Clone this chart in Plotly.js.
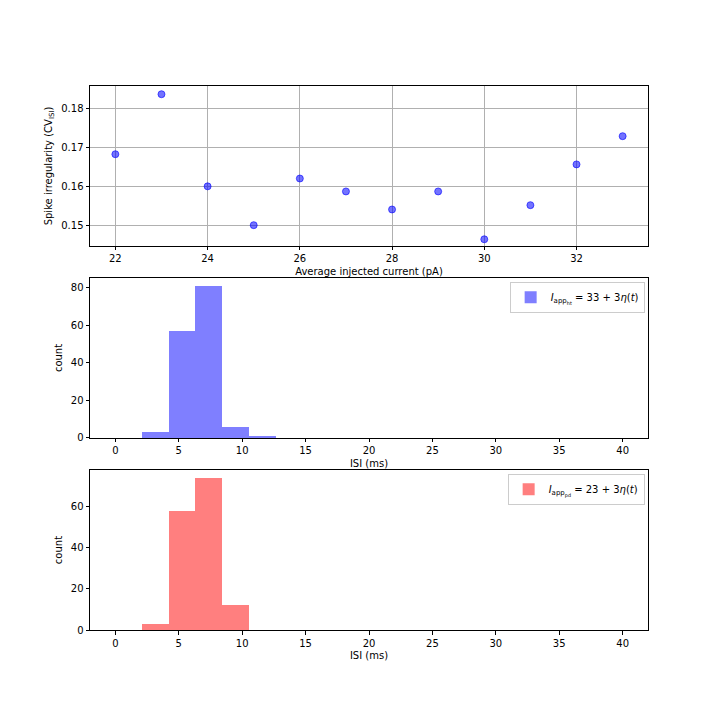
<!DOCTYPE html>
<html>
<head>
<meta charset="utf-8">
<script src="https://cdn.plot.ly/plotly-3.0.1.min.js"></script>
<style>
  body { margin: 0; background: #fff; }
  #myPlotDiv { width: 720px; height: 720px; }
</style>
</head>
<body>
<div id="myPlotDiv"></div>
<script>
// average injected current (pA) vs CV of ISI
const currents = [22, 23, 24, 25, 26, 27, 28, 29, 30, 31, 32, 33];
const cvIsi = [0.1683, 0.1836, 0.1601, 0.1502, 0.1621, 0.1588, 0.1542, 0.1588, 0.1466, 0.1553, 0.1657, 0.1729];

// ISI histograms: 19 bins over 0..40 ms
const histRange = [0, 40];
const nBins = 19;
const countsHt = [0, 3, 57, 81, 6, 1, 0, 0, 0, 0, 0, 0, 0, 0, 0, 0, 0, 0, 0];
const countsPd = [0, 3, 58, 74, 12, 0, 0, 0, 0, 0, 0, 0, 0, 0, 0, 0, 0, 0, 0];
const labelHt = '<i>I</i><sub>app<sub>ht</sub></sub> = 33 + 3<i>η</i>(<i>t</i>)';
const labelPd = '<i>I</i><sub>app<sub>pd</sub></sub> = 23 + 3<i>η</i>(<i>t</i>)';

const binWidth = (histRange[1] - histRange[0]) / nBins;
const binCenters = countsHt.map((_, i) => histRange[0] + (i + 0.5) * binWidth);

function axisStyle(extra) {
    return Object.assign({
        showline: true, mirror: true, linecolor: '#000', linewidth: 1,
        ticks: 'outside', ticklen: 3.5, tickcolor: '#000', tickwidth: 1,
        zeroline: false, showgrid: false,
        tickfont: {size: 10, color: '#000'}
    }, extra);
}

var scatterTrace = {
    x: currents,
    y: cvIsi,
    xaxis: 'x', yaxis: 'y',
    type: 'scatter',
    mode: 'markers',
    marker: {color: 'rgba(0,0,255,0.55)', size: 7, line: {color: 'rgba(0,0,255,0.6)', width: 1}},
    showlegend: false
};

var htTrace = {
    x: binCenters,
    y: countsHt,
    width: binWidth,
    xaxis: 'x2', yaxis: 'y2',
    type: 'bar',
    marker: {color: 'rgba(0,0,255,0.5)', line: {width: 0}},
    name: labelHt,
    legend: 'legend'
};

var pdTrace = {
    x: binCenters,
    y: countsPd,
    width: binWidth,
    xaxis: 'x3', yaxis: 'y3',
    type: 'bar',
    marker: {color: 'rgba(255,0,0,0.5)', line: {width: 0}},
    name: labelPd,
    legend: 'legend2'
};

var legendStyle = {
    xanchor: 'right', yanchor: 'top',
    bgcolor: 'rgba(255,255,255,0.8)', bordercolor: '#ccc', borderwidth: 1,
    itemwidth: 30,
    font: {size: 10, color: '#000'}
};

var layout = {
    width: 720, height: 720,
    margin: {l: 90, r: 72, t: 86, b: 90},
    paper_bgcolor: '#fff', plot_bgcolor: '#fff',
    font: {family: 'DejaVu Sans', size: 10, color: '#000'},
    bargap: 0,
    xaxis: axisStyle({
        domain: [0, 1], anchor: 'y', range: [21.45, 33.55],
        tickvals: [22, 24, 26, 28, 30, 32],
        showgrid: true, gridcolor: '#b0b0b0', gridwidth: 1,
        title: {text: 'Average injected current (pA)', font: {size: 10}, standoff: 4}
    }),
    yaxis: axisStyle({
        domain: [0.706, 1], anchor: 'x', range: [0.1449, 0.1857],
        tickvals: [0.15, 0.16, 0.17, 0.18], tickformat: '.2f',
        showgrid: true, gridcolor: '#b0b0b0', gridwidth: 1,
        title: {text: 'Spike irregularity (CV<sub>ISI</sub>)', font: {size: 10}, standoff: 6}
    }),
    xaxis2: axisStyle({
        domain: [0, 1], anchor: 'y2', range: [-2, 42],
        tickvals: [0, 5, 10, 15, 20, 25, 30, 35, 40],
        title: {text: 'ISI (ms)', font: {size: 10}, standoff: 4}
    }),
    yaxis2: axisStyle({
        domain: [0.353, 0.647], anchor: 'x2', range: [0, 85.05],
        tickvals: [0, 20, 40, 60, 80],
        title: {text: 'count', font: {size: 10}, standoff: 6}
    }),
    xaxis3: axisStyle({
        domain: [0, 1], anchor: 'y3', range: [-2, 42],
        tickvals: [0, 5, 10, 15, 20, 25, 30, 35, 40],
        title: {text: 'ISI (ms)', font: {size: 10}, standoff: 4}
    }),
    yaxis3: axisStyle({
        domain: [0, 0.294], anchor: 'x3', range: [0, 77.7],
        tickvals: [0, 20, 40, 60],
        title: {text: 'count', font: {size: 10}, standoff: 6}
    }),
    legend: Object.assign({x: 0.994, y: 0.64}, legendStyle),
    legend2: Object.assign({x: 0.994, y: 0.287}, legendStyle)
};

Plotly.newPlot('myPlotDiv', [scatterTrace, htTrace, pdTrace], layout, {staticPlot: true});
</script>
</body>
</html>
